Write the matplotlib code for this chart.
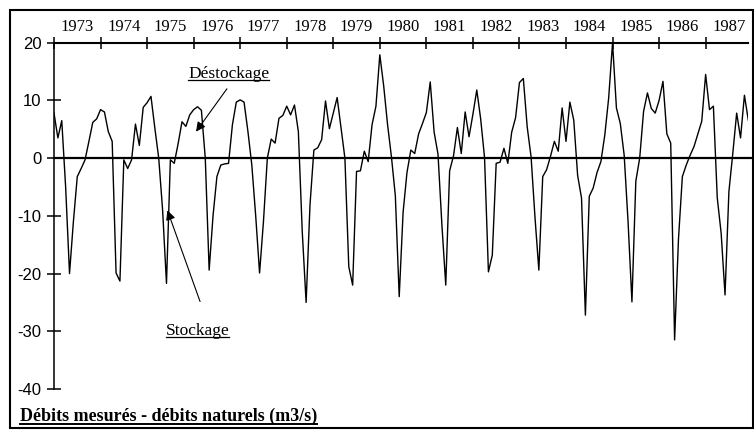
import matplotlib
matplotlib.use('Agg')
import matplotlib.pyplot as plt
import numpy as np
from matplotlib.lines import Line2D
from matplotlib.patches import Rectangle

# Monthly values (m3/s), measured flow minus natural flow, one list per year
years = list(range(1973, 1988))

flow_1973 = [7.8, 3.5, 6.5, -5.0, -20.0, -11.0, -3.2, -1.8, -0.3, 2.9, 6.2, 6.8]
flow_1974 = [8.4, 8.0, 4.6, 2.9, -19.9, -21.3, -0.3, -1.8, -0.3, 5.9, 2.2, 8.8]
flow_1975 = [9.6, 10.7, 5.2, 0.0, -9.0, -21.7, -0.3, -0.9, 2.5, 6.3, 5.5, 7.5]
flow_1976 = [8.4, 8.9, 8.3, 0.0, -19.4, -10.0, -3.2, -1.2, -1.0, -0.9, 5.8, 9.7]
flow_1977 = [10.1, 9.7, 4.6, -1.2, -10.0, -19.9, -11.0, 0.0, 3.3, 2.6, 6.9, 7.4]
flow_1978 = [9.0, 7.5, 9.2, 4.6, -12.7, -25.0, -8.1, 1.4, 1.8, 3.2, 9.9, 5.1]
flow_1979 = [7.8, 10.5, 5.2, 0.0, -18.8, -22.0, -2.3, -2.2, 1.2, -0.6, 5.8, 9.0]
flow_1980 = [17.9, 12.5, 5.8, 0.2, -6.5, -24.0, -9.4, -2.5, 1.4, 0.8, 4.2, 6.0]
flow_1981 = [7.9, 13.2, 4.5, 0.7, -11.5, -22.0, -2.2, 0.4, 5.3, 0.8, 8.0, 3.7]
flow_1982 = [7.6, 11.8, 6.8, 0.1, -19.7, -16.8, -0.9, -0.7, 1.7, -0.9, 4.5, 7.0]
flow_1983 = [13.1, 13.8, 5.4, 0.2, -10.2, -19.4, -3.2, -2.0, 0.3, 2.9, 1.2, 8.7]
flow_1984 = [2.9, 9.7, 6.6, -3.0, -6.9, -27.2, -6.6, -5.2, -2.5, -0.6, 4.0, 10.4]
flow_1985 = [20.0, 8.7, 6.0, 0.5, -11.0, -24.9, -4.0, 0.0, 8.1, 11.3, 8.6, 7.8]
flow_1986 = [10.0, 13.3, 4.2, 2.6, -31.5, -14.0, -3.2, -1.2, 0.5, 2.0, 4.2, 6.4]
flow_1987 = [14.5, 8.4, 9.0, -6.9, -13.0, -23.7, -5.8, 0.8, 7.8, 3.5, 10.9, 6.6]

yticks = [-40, -30, -20, -10, 0, 10, 20]

diff = np.concatenate([flow_1973, flow_1974, flow_1975, flow_1976, flow_1977,
                       flow_1978, flow_1979, flow_1980, flow_1981, flow_1982,
                       flow_1983, flow_1984, flow_1985, flow_1986, flow_1987])
months = np.arange(len(diff))

serif = 'Liberation Serif'
W, H = 754, 430

fig = plt.figure(figsize=(W / 100, H / 100), dpi=100)
ax = fig.add_axes([54 / W, 1 - 389 / H, (748.3 - 54) / W, (389 - 42.7) / H])

ax.plot(months, diff, color='black', lw=1.0)
ax.plot([0, len(diff) + 0.8], [0, 0], color='black', lw=1.6, clip_on=False)

ax.set_xlim(0, months[-1])
ax.set_ylim(-40, 20)

# year axis on top, ticks at each january
ax.xaxis.tick_top()
ax.set_xticks(np.arange(0, len(diff), 12))
ax.set_xticklabels([])
ax.tick_params(axis='x', direction='inout', length=8, width=1.1)
for k, yr in enumerate(years):
    ax.text(12 * k + 6, 1.045, str(yr), transform=ax.get_xaxis_transform(),
            ha='center', va='center', family=serif, fontsize=12)

ax.set_yticks(yticks)
ax.set_yticklabels([str(v) for v in yticks], family='Liberation Sans', fontsize=12)
ax.tick_params(axis='y', direction='inout', length=10, width=1.1, pad=4)

for s in ['bottom', 'right']:
    ax.spines[s].set_visible(False)
ax.spines['top'].set_linewidth(1.5)
ax.spines['left'].set_linewidth(1.1)

# annotations
ax.annotate('', xy=(36.2, 4.2), xytext=(45, 12.4),
            arrowprops=dict(arrowstyle='-|>', color='black', lw=0.8, mutation_scale=14))
ax.annotate('', xy=(29.0, -8.6), xytext=(37.9, -25.3),
            arrowprops=dict(arrowstyle='-|>', color='black', lw=0.8, mutation_scale=14))
t1 = ax.text(45.1, 13.9, 'Déstockage', ha='center', va='baseline', family=serif, fontsize=12.5)
t2 = ax.text(37.0, -30.6, 'Stockage', ha='center', va='baseline', family=serif, fontsize=12.5)
t3 = fig.text(20 / W, 1 - 421 / H, 'Débits mesurés - débits naturels (m3/s)',
              ha='left', va='baseline', family=serif, fontsize=13, fontweight='bold')

# outer frame
fig.add_artist(Rectangle((10 / W, 2 / H), (W - 11) / W, (H - 12) / H, transform=fig.transFigure,
                         fill=False, edgecolor='black', lw=1.5))

# underline the texts
fig.canvas.draw()
for t, lw in [(t1, 0.9), (t2, 0.9), (t3, 1.4)]:
    bb = t.get_window_extent()
    base = t.get_transform().transform(t.get_position())[1]
    y = (base - 2.5) / H
    fig.add_artist(Line2D([bb.x0 / W, bb.x1 / W], [y, y], transform=fig.transFigure,
                          color='black', lw=lw))

fig.savefig('out.png', dpi=100)
